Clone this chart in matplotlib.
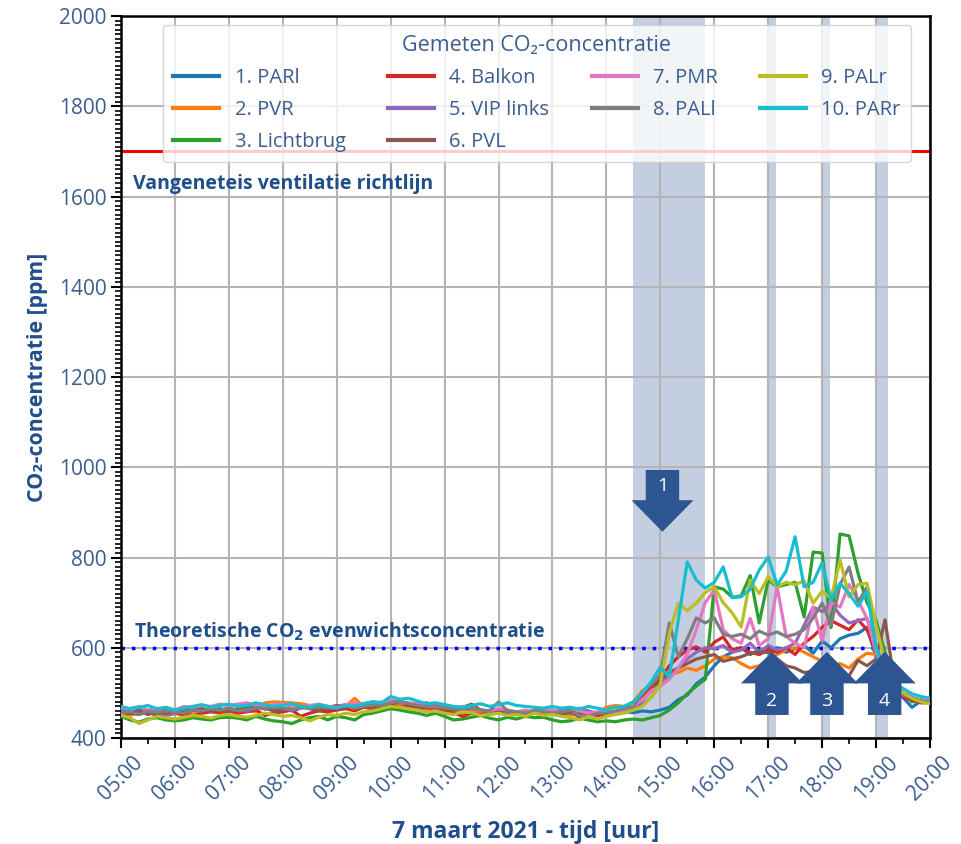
import matplotlib
matplotlib.use('Agg')
import matplotlib.pyplot as plt
from matplotlib.patches import FancyArrow
from matplotlib.ticker import MultipleLocator, FuncFormatter
import numpy as np

plt.rcParams['font.family'] = ['Open Sans', 'DejaVu Sans']

# meetmomenten elke 10 minuten, 05:00 t/m 20:00 (uren als float)
tijd = 5 + np.arange(91) * 10 / 60

namen = ['1. PARl', '2. PVR', '3. Lichtbrug', '4. Balkon', '5. VIP links',
         '6. PVL', '7. PMR', '8. PALl', '9. PALr', '10. PARr']
kleuren = ['#1f77b4', '#ff7f0e', '#2ca02c', '#d62728', '#9467bd',
           '#8c564b', '#e377c2', '#7f7f7f', '#bcbd22', '#17becf']

# CO2 [ppm] per sensor, per uur 6 waarden + 20:00
parl = [458, 455, 462, 457, 450, 452,  455, 460, 463, 458, 462, 465,
        460, 463, 466, 470, 464, 468,  465, 460, 466, 470, 467, 462,
        466, 470, 472, 468, 474, 478,  476, 472, 470, 468, 465, 462,
        460, 458, 462, 455, 458, 452,  456, 458, 455, 452, 456, 460,
        455, 450, 452, 456, 448, 452,  452, 455, 458, 456, 460, 458,
        462, 468, 485, 495, 520, 535,  560, 580, 590, 600, 585, 595,
        595, 600, 590, 598, 605, 588,  615, 600, 620, 628, 632, 645,
        580, 540, 505, 490, 468, 482,  480]
pvr = [455, 450, 458, 455, 460, 452,  455, 450, 458, 462, 460, 455,
       458, 462, 460, 458, 478, 480,  479, 478, 476, 472, 468, 470,
       465, 470, 488, 470, 465, 468,  472, 475, 468, 465, 462, 460,
       462, 458, 455, 460, 457, 455,  458, 455, 452, 455, 458, 452,
       455, 450, 452, 450, 448, 455,  468, 472, 470, 480, 505, 515,
       530, 540, 545, 555, 550, 560,  575, 580, 578, 565, 555, 560,
       575, 585, 595, 600, 590, 580,  570, 560, 565, 555, 575, 588,
       585, 540, 510, 500, 488, 478,  478]
lichtbrug = [448, 440, 435, 442, 445, 440,  438, 440, 445, 442, 440, 445,
             446, 444, 440, 448, 442, 438,  436, 432, 440, 445, 448, 440,
             448, 445, 440, 452, 455, 460,  465, 462, 458, 455, 450, 455,
             448, 440, 442, 446, 450, 444,  440, 446, 442, 448, 445, 446,
             440, 436, 438, 444, 440, 436,  438, 436, 440, 442, 440, 445,
             450, 462, 478, 498, 515, 530,  735, 730, 712, 715, 760, 655,
             750, 735, 740, 745, 668, 812,  810, 645, 852, 848, 765, 700,
             660, 590, 530, 500, 480, 485,  480]
balkon = [460, 455, 452, 458, 455, 450,  455, 452, 450, 455, 458, 456,
          460, 455, 458, 462, 450, 455,  458, 462, 448, 455, 460, 458,
          462, 465, 460, 468, 465, 470,  472, 468, 470, 465, 468, 462,
          458, 456, 448, 455, 452, 455,  458, 455, 452, 456, 458, 455,
          462, 455, 468, 452, 455, 450,  452, 455, 460, 470, 490, 510,
          530, 560, 580, 595, 602, 590,  612, 624, 595, 600, 590, 585,
          595, 590, 600, 585, 610, 625,  645, 660, 650, 640, 662, 640,
          590, 545, 505, 490, 485, 478,  480]
vip_links = [462, 458, 455, 460, 457, 452,  455, 458, 462, 460, 465, 462,
             466, 462, 460, 466, 470, 468,  466, 462, 468, 470, 472, 468,
             470, 474, 470, 476, 480, 478,  482, 478, 476, 472, 470, 468,
             465, 462, 460, 466, 462, 458,  462, 458, 455, 460, 458, 462,
             458, 462, 455, 466, 460, 455,  458, 455, 460, 465, 475, 490,
             520, 540, 555, 575, 590, 600,  598, 605, 590, 595, 610, 590,
             605, 595, 600, 610, 650, 690,  680, 700, 672, 655, 660, 665,
             600, 540, 510, 495, 488, 482,  480]
pvl = [450, 455, 460, 452, 458, 455,  460, 456, 462, 466, 458, 462,
       458, 465, 462, 470, 466, 460,  462, 466, 470, 465, 460, 468,
       472, 468, 474, 470, 466, 472,  475, 480, 476, 472, 478, 470,
       466, 462, 468, 475, 462, 460,  458, 462, 456, 460, 455, 452,
       456, 452, 458, 448, 452, 455,  452, 456, 460, 468, 485, 505,
       530, 545, 555, 565, 575, 580,  585, 570, 575, 580, 588, 590,
       590, 575, 560, 555, 545, 548,  555, 548, 540, 538, 572, 560,
       575, 662, 530, 500, 488, 480,  478]
pmr = [468, 465, 470, 462, 465, 460,  462, 470, 468, 472, 470, 475,
       472, 475, 478, 472, 468, 474,  476, 470, 466, 472, 475, 470,
       468, 474, 478, 472, 476, 480,  484, 480, 478, 476, 470, 472,
       468, 465, 470, 466, 462, 460,  465, 462, 458, 462, 456, 460,
       462, 458, 465, 460, 455, 458,  460, 456, 462, 470, 485, 505,
       515, 530, 555, 585, 640, 700,  728, 640, 620, 610, 665, 605,
       620, 735, 625, 610, 600, 690,  615, 700, 690, 740, 705, 665,
       590, 540, 510, 500, 490, 484,  482]
pall = [455, 458, 452, 460, 456, 462,  458, 455, 462, 460, 465, 462,
        466, 460, 462, 468, 465, 470,  466, 462, 468, 465, 470, 466,
        468, 472, 466, 470, 474, 472,  478, 482, 476, 472, 470, 474,
        468, 465, 462, 466, 462, 460,  480, 460, 458, 455, 462, 458,
        455, 458, 462, 450, 448, 455,  455, 460, 465, 470, 500, 520,
        540, 655, 580, 620, 666, 655,  666, 630, 625, 630, 620, 637,
        628, 635, 625, 630, 640, 666,  699, 650, 740, 779, 700, 735,
        600, 560, 520, 500, 490, 482,  480]
palr = [450, 445, 432, 440, 448, 445,  442, 446, 450, 448, 444, 450,
        452, 448, 446, 450, 455, 452,  448, 450, 445, 438, 446, 452,
        450, 455, 452, 458, 460, 465,  470, 468, 465, 462, 458, 460,
        455, 452, 458, 456, 450, 452,  455, 450, 452, 448, 455, 450,
        452, 448, 445, 440, 448, 442,  448, 452, 455, 462, 470, 490,
        518, 632, 699, 682, 699, 722,  735, 700, 677, 646, 750, 720,
        757, 735, 745, 740, 748, 699,  725, 710, 794, 713, 740, 743,
        650, 570, 520, 500, 488, 480,  476]
parr = [470, 465, 468, 472, 465, 468,  462, 466, 470, 474, 468, 472,
        475, 470, 472, 478, 474, 470,  472, 476, 470, 468, 474, 470,
        466, 472, 470, 476, 480, 478,  492, 486, 488, 482, 476, 478,
        474, 470, 468, 472, 476, 470,  474, 478, 472, 470, 468, 466,
        470, 466, 468, 464, 470, 466,  462, 468, 470, 480, 500, 525,
        557, 535, 661, 790, 750, 732,  745, 779, 711, 713, 730, 772,
        801, 739, 770, 846, 735, 745,  788, 706, 743, 720, 692, 725,
        600, 540, 520, 510, 498, 492,  488]
reeksen = [parl, pvr, lichtbrug, balkon, vip_links, pvl, pmr, pall, palr, parr]

# periodes met open deuren / ventilatie
ventilatie = [(14.5, 15.83), (17.0, 17.15), (18.0, 18.15), (19.0, 19.23)]
richtlijn = 1700
evenwicht = 600

tekstkleur = '#3b5d8f'
titelkleur = '#1f4e8c'
pijlkleur = '#2d5592'

fig = plt.figure(figsize=(9.61, 8.44), dpi=100)
ax = fig.add_axes([0.1259, 0.1256, 0.8418, 0.8554])

for start, eind in ventilatie:
    ax.axvspan(start, eind, color='#3a5f9a', alpha=0.3, lw=0, zorder=1)

for reeks, naam, kleur in zip(reeksen, namen, kleuren):
    ax.plot(tijd, reeks, color=kleur, lw=2.3, label=naam, zorder=3)

ax.axhline(richtlijn, color='red', lw=2.2, zorder=2)
ax.axhline(evenwicht, color='blue', lw=2.5, ls=(0, (1, 2)), zorder=2)

ax.text(5.22, 1627, 'Vangeneteis ventilatie richtlijn', color=titelkleur,
        fontsize=14, fontweight='bold', va='center')
ax.text(5.24, 636, r'Theoretische CO$_\mathbf{2}$ evenwichtsconcentratie',
        color=titelkleur, fontsize=14, fontweight='bold', va='center')

# pijlen 1 (omlaag) en 2-4 (omhoog)
pijlen = [(15.04, 994, -137, '1'), (17.07, 451, 140, '2'),
          (18.09, 451, 140, '3'), (19.16, 451, 140, '4')]
for x, y, dy, nr in pijlen:
    ax.add_patch(FancyArrow(x, y, 0, dy, width=0.62, head_width=1.15,
                            head_length=70, length_includes_head=True,
                            color=pijlkleur, lw=0, zorder=5))
    ty = y - 35 if dy < 0 else y + 32
    ax.text(x, ty, nr, color='white', fontsize=14, ha='center', va='center', zorder=6)

ax.set_xlim(5, 20)
ax.set_ylim(400, 2000)
ax.xaxis.set_major_locator(MultipleLocator(1))
ax.xaxis.set_minor_locator(MultipleLocator(0.5))
ax.xaxis.set_major_formatter(FuncFormatter(lambda v, p: '%02d:00' % int(round(v))))
ax.yaxis.set_major_locator(MultipleLocator(200))
ax.yaxis.set_minor_locator(MultipleLocator(10))
ax.grid(True, which='major', color='#b4b4b4', lw=1.5, zorder=0)

ax.tick_params(axis='both', which='major', length=7, width=1.5, labelsize=15,
               labelcolor=tekstkleur)
ax.tick_params(axis='both', which='minor', length=4, width=1.2)
for lbl in ax.get_xticklabels():
    lbl.set_rotation(45)
    lbl.set_ha('center')
for sp in ax.spines.values():
    sp.set_linewidth(1.8)

ax.set_xlabel('7 maart 2021 - tijd [uur]', fontsize=16.5, fontweight='bold',
              color=titelkleur, labelpad=11)
ax.set_ylabel('CO₂-concentratie [ppm]', fontsize=15.3, fontweight='bold',
              color=titelkleur, labelpad=8)

leg = ax.legend(ncol=4, title='Gemeten CO₂-concentratie', loc='upper left',
                bbox_to_anchor=(0.052, 0.9875), fontsize=14.5, title_fontsize=15.5,
                handlelength=2.3, handletextpad=0.75, columnspacing=2.1,
                labelspacing=0.6, borderpad=0.5, borderaxespad=0,
                framealpha=0.8, edgecolor='#cccccc', labelcolor=tekstkleur)
leg.get_title().set_color(tekstkleur)
for h in leg.get_lines():
    h.set_linewidth(3)
leg.set_zorder(4)

fig.savefig('out.png', dpi=100)
